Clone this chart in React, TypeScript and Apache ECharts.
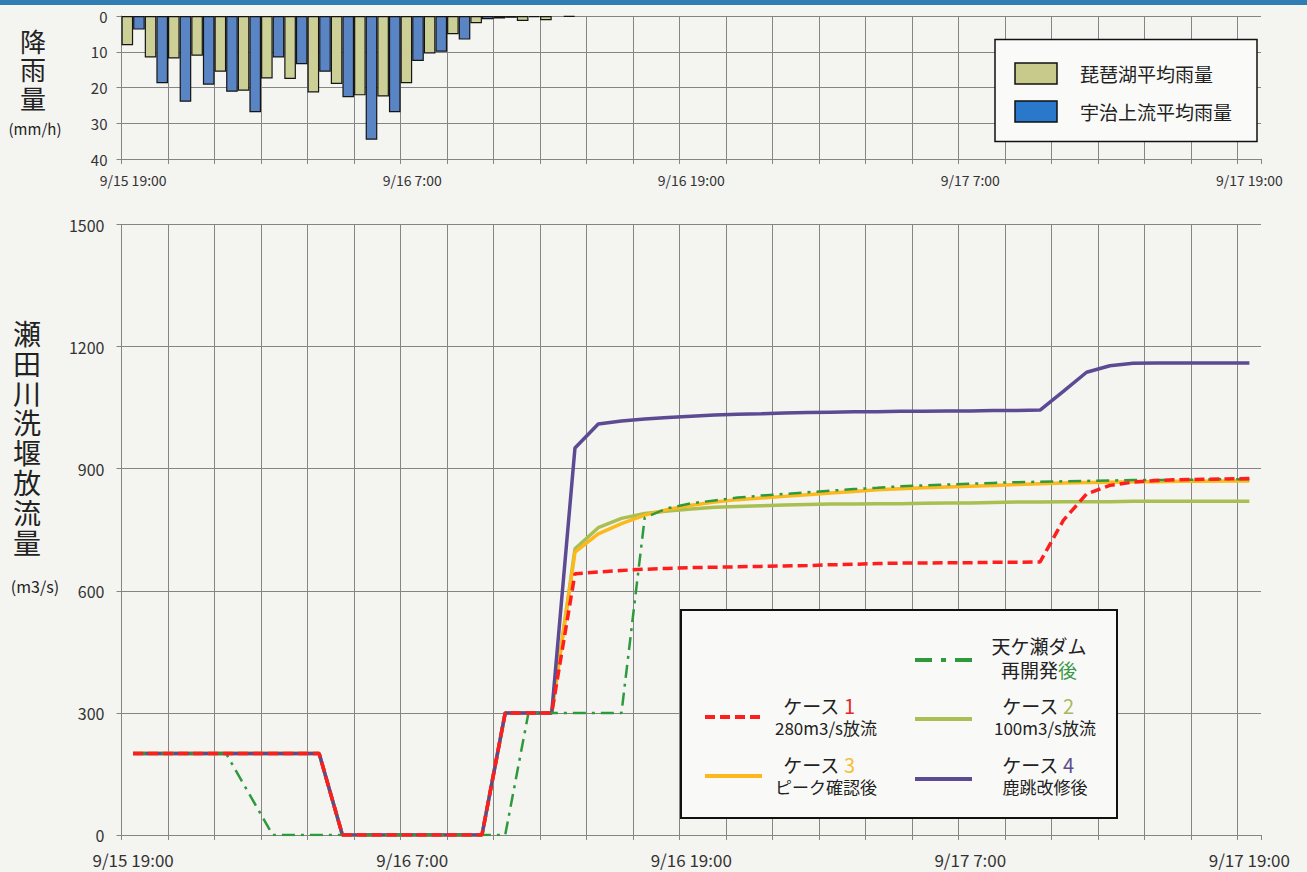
import React, { useEffect, useRef } from 'react';
import * as echarts from 'echarts';

const categories = [
  '9/15 19:00', '9/15 20:00', '9/15 21:00', '9/15 22:00', '9/15 23:00',
  '9/16 0:00', '9/16 1:00', '9/16 2:00', '9/16 3:00', '9/16 4:00', '9/16 5:00',
  '9/16 6:00', '9/16 7:00', '9/16 8:00', '9/16 9:00', '9/16 10:00', '9/16 11:00',
  '9/16 12:00', '9/16 13:00', '9/16 14:00', '9/16 15:00', '9/16 16:00', '9/16 17:00',
  '9/16 18:00', '9/16 19:00', '9/16 20:00', '9/16 21:00', '9/16 22:00', '9/16 23:00',
  '9/17 0:00', '9/17 1:00', '9/17 2:00', '9/17 3:00', '9/17 4:00', '9/17 5:00',
  '9/17 6:00', '9/17 7:00', '9/17 8:00', '9/17 9:00', '9/17 10:00', '9/17 11:00',
  '9/17 12:00', '9/17 13:00', '9/17 14:00', '9/17 15:00', '9/17 16:00', '9/17 17:00',
  '9/17 18:00', '9/17 19:00',
];

// 降雨量 (mm/h)
const rainBiwa = [
  8.2, 11.6, 11.9, 11.1, 15.6, 20.9, 17.5, 17.6, 21.4, 19.0,
  22.2, 22.5, 18.8, 10.5, 5.1, 2.0, 0.7, 1.4, 1.2, 0.2,
  null, null, null, null, null, null, null, null, null, null,
  null, null, null, null, null, null, null, null, null, null,
  null, null, null, null, null, null, null, null, null,
];
const rainUji = [
  3.8, 18.8, 24.0, 19.2, 21.2, 26.9, 11.6, 13.5, 15.6, 22.7,
  34.6, 26.9, 12.6, 10.0, 6.6, 0.9, 0.5, 0.3, null, null,
  null, null, null, null, null, null, null, null, null, null,
  null, null, null, null, null, null, null, null, null, null,
  null, null, null, null, null, null, null, null, null,
];

// 瀬田川洗堰放流量 (m3/s)
const flowCase1 = [
  200, 200, 200, 200, 200, 200, 200, 200, 200, 0,
  0, 0, 0, 0, 0, 0, 300, 300, 300, 642,
  646, 650, 653, 655, 657, 658, 659, 660, 661, 662,
  664, 665, 667, 668, 668, 669, 669, 670, 670, 671,
  773, 838, 859, 867, 871, 873, 874, 875, 876,
];
const flowCase2 = [
  200, 200, 200, 200, 200, 200, 200, 200, 200, 0,
  0, 0, 0, 0, 0, 0, 300, 300, 300, 703,
  755, 778, 790, 796, 801, 805, 807, 809, 811, 812,
  813, 813, 814, 814, 815, 816, 816, 817, 818, 818,
  819, 819, 819, 820, 820, 820, 820, 820, 820,
];
const flowCase3 = [
  200, 200, 200, 200, 200, 200, 200, 200, 200, 0,
  0, 0, 0, 0, 0, 0, 300, 300, 300, 695,
  740, 765, 786, 800, 810, 818, 824, 828, 832, 836,
  840, 844, 848, 851, 853, 855, 857, 859, 861, 863,
  865, 866, 867, 868, 868, 869, 869, 870, 870,
];
const flowCase4 = [
  200, 200, 200, 200, 200, 200, 200, 200, 200, 0,
  0, 0, 0, 0, 0, 0, 300, 300, 300, 951,
  1010, 1017, 1022, 1026, 1029, 1032, 1034, 1035, 1037, 1038,
  1039, 1040, 1040, 1041, 1041, 1042, 1042, 1043, 1043, 1044,
  1090, 1137, 1153, 1159, 1160, 1160, 1160, 1160, 1160,
];
const flowDam = [
  200, 200, 200, 200, 200, 100, 0, 0, 0, 0,
  0, 0, 0, 0, 0, 0, 0, 300, 300, 300,
  300, 300, 780, 803, 815, 822, 829, 834, 838, 842,
  846, 850, 853, 857, 859, 861, 863, 865, 867, 868,
  869, 870, 871, 872, 872, 873, 873, 874, 874,
];

const rainTicks = { min: 0, max: 40, interval: 10 };
const flowTicks = { min: 0, max: 1500, interval: 300 };

const rainTitle = ['降', '雨', '量'];
const flowTitle = ['瀬', '田', '川', '洗', '堰', '放', '流', '量'];

const FONT = '"Noto Sans CJK JP", "Noto Sans", sans-serif';
const GRID_COLOR = '#858585';
const C_RED = '#ff1e1e';
const C_OLIVE = '#a9bf52';
const C_YELLOW = '#fdb81c';
const C_PURPLE = '#5c4a93';
const C_GREEN = '#2f9a3c';
const C_BAR_Y = '#cdd096';
const C_BAR_B = '#5a85c5';

const center = { textAlign: 'center', align: 'center', textVerticalAlign: 'middle', verticalAlign: 'middle' };

function legendText(x: number, y: number, main: string, num: string, numColor: string, sub: string) {
  return [
    {
      type: 'text', x, y, z: 110,
      style: {
        text: `{t|${main}}{n|${num}}`,
        rich: {
          t: { fontSize: 19, fill: '#222', color: '#222', fontFamily: FONT },
          n: { fontSize: 20, fill: numColor, color: numColor, fontFamily: FONT },
        },
        ...center,
      },
    },
    {
      type: 'text', x: x + 7, y: y + 22, z: 110,
      style: { text: sub, fontSize: 17, fontFamily: FONT, fill: '#222', ...center },
    },
  ];
}

export default function App() {
  const ref = useRef<HTMLDivElement>(null);
  useEffect(() => {
    if (!ref.current) return;
    const chart = echarts.init(ref.current, undefined, { renderer: 'svg' });
    const xCommon = (gridIndex: number, fontSize: number, margin: number) => ({
      type: 'category',
      gridIndex,
      data: categories,
      boundaryGap: true,
      axisLine: { show: true, onZero: false, lineStyle: { color: GRID_COLOR, width: 1 } },
      axisTick: { show: true, interval: 1, length: 5, lineStyle: { color: GRID_COLOR } },
      splitLine: { show: true, interval: 1, showMaxLine: false, lineStyle: { color: GRID_COLOR, width: 1 } },
      axisLabel: { interval: 11, fontSize, margin, color: '#333', fontFamily: FONT },
    });
    const yFormatter = (v: number) => String(v);
    const option: any = {
      animation: false,
      backgroundColor: '#f4f4f1',
      grid: [
        { left: 121.5, top: 16, width: 1139.5, height: 143 },
        { left: 121.5, top: 224.5, width: 1139.5, height: 610.5 },
      ],
      xAxis: [xCommon(0, 14, 14), xCommon(1, 17, 16)],
      yAxis: [
        {
          type: 'value', gridIndex: 0, inverse: true, ...rainTicks,
          axisLine: { show: true, lineStyle: { color: GRID_COLOR } },
          axisTick: { show: true, length: 5, lineStyle: { color: GRID_COLOR } },
          splitLine: { show: true, lineStyle: { color: GRID_COLOR } },
          axisLabel: { fontSize: 15, color: '#333', margin: 14, fontFamily: FONT, formatter: yFormatter },
        },
        {
          type: 'value', gridIndex: 1, ...flowTicks,
          axisLine: { show: true, lineStyle: { color: GRID_COLOR } },
          axisTick: { show: true, length: 5, lineStyle: { color: GRID_COLOR } },
          splitLine: { show: true, lineStyle: { color: GRID_COLOR } },
          axisLabel: { fontSize: 16, color: '#333', margin: 17, fontFamily: FONT, formatter: yFormatter },
        },
      ],
      series: [
        {
          name: '琵琶湖平均雨量', type: 'bar', xAxisIndex: 0, yAxisIndex: 0, data: rainBiwa,
          barGap: '0%', barCategoryGap: '0%',
          itemStyle: { color: C_BAR_Y, borderColor: '#151515', borderWidth: 1.2 },
        },
        {
          name: '宇治上流平均雨量', type: 'bar', xAxisIndex: 0, yAxisIndex: 0, data: rainUji,
          barGap: '0%', barCategoryGap: '0%',
          itemStyle: { color: C_BAR_B, borderColor: '#151515', borderWidth: 1.2 },
        },
        {
          name: 'ケース2', type: 'line', xAxisIndex: 1, yAxisIndex: 1, data: flowCase2,
          symbol: 'none', lineStyle: { color: C_OLIVE, width: 3.5 },
        },
        {
          name: 'ケース3', type: 'line', xAxisIndex: 1, yAxisIndex: 1, data: flowCase3,
          symbol: 'none', lineStyle: { color: C_YELLOW, width: 3.5 },
        },
        {
          name: 'ケース4', type: 'line', xAxisIndex: 1, yAxisIndex: 1, data: flowCase4,
          symbol: 'none', lineStyle: { color: C_PURPLE, width: 3.5 },
        },
        {
          name: '天ケ瀬ダム再開発後', type: 'line', xAxisIndex: 1, yAxisIndex: 1, data: flowDam,
          symbol: 'none', lineStyle: { color: C_GREEN, width: 2.5, type: [13, 6, 3, 6] },
        },
        {
          name: 'ケース1', type: 'line', xAxisIndex: 1, yAxisIndex: 1, data: flowCase1,
          symbol: 'none', lineStyle: { color: C_RED, width: 3.5, type: [10, 5] },
        },
      ],
      graphic: [
        { type: 'rect', shape: { x: 0, y: 0, width: 1307, height: 5 }, style: { fill: '#2f7db3' }, z: 120 },
        // left titles
        ...rainTitle.map((ch, i) => ({
          type: 'text', x: 33, y: 40 + i * 28.5,
          style: { text: ch, fontSize: 26, fontFamily: FONT, fill: '#222', ...center },
        })),
        {
          type: 'text', x: 35, y: 128,
          style: { text: '(mm/h)', fontSize: 15, fontFamily: FONT, fill: '#222', ...center },
        },
        ...flowTitle.map((ch, i) => ({
          type: 'text', x: 27, y: 333 + i * 29.8,
          style: { text: ch, fontSize: 28, fontFamily: FONT, fill: '#222', ...center },
        })),
        {
          type: 'text', x: 35, y: 586,
          style: { text: '(m3/s)', fontSize: 16, fontFamily: FONT, fill: '#222', ...center },
        },
        // top legend
        { type: 'rect', z: 100, shape: { x: 995, y: 39.5, width: 262, height: 102 }, style: { fill: '#fafaf8', stroke: '#111', lineWidth: 1.5 } },
        { type: 'rect', z: 101, shape: { x: 1015, y: 63, width: 42, height: 21 }, style: { fill: '#c8ca8c', stroke: '#111', lineWidth: 1.5 } },
        { type: 'rect', z: 101, shape: { x: 1015, y: 101, width: 42, height: 21 }, style: { fill: '#2a78cb', stroke: '#111', lineWidth: 1.5 } },
        {
          type: 'text', z: 101, x: 1080, y: 73.5,
          style: { text: '琵琶湖平均雨量', fontSize: 19, fontFamily: FONT, fill: '#222', textVerticalAlign: 'middle', verticalAlign: 'middle' },
        },
        {
          type: 'text', z: 101, x: 1080, y: 111,
          style: { text: '宇治上流平均雨量', fontSize: 19, fontFamily: FONT, fill: '#222', textVerticalAlign: 'middle', verticalAlign: 'middle' },
        },
        // bottom legend
        { type: 'rect', z: 100, shape: { x: 681, y: 610, width: 436, height: 208 }, style: { fill: '#f9f9f7', stroke: '#111', lineWidth: 2 } },
        { type: 'line', z: 101, shape: { x1: 915, y1: 660, x2: 972, y2: 660 }, style: { stroke: C_GREEN, lineWidth: 4, lineDash: [17, 9, 5, 9] } },
        { type: 'line', z: 101, shape: { x1: 705, y1: 717, x2: 762, y2: 717 }, style: { stroke: C_RED, lineWidth: 4, lineDash: [10, 5] } },
        { type: 'line', z: 101, shape: { x1: 915, y1: 719, x2: 972, y2: 719 }, style: { stroke: C_OLIVE, lineWidth: 4 } },
        { type: 'line', z: 101, shape: { x1: 705, y1: 776, x2: 762, y2: 776 }, style: { stroke: C_YELLOW, lineWidth: 4 } },
        { type: 'line', z: 101, shape: { x1: 915, y1: 779, x2: 972, y2: 779 }, style: { stroke: C_PURPLE, lineWidth: 4 } },
        {
          type: 'text', z: 110, x: 1039, y: 645,
          style: { text: '天ケ瀬ダム', fontSize: 19, fontFamily: FONT, fill: '#222', ...center },
        },
        {
          type: 'text', z: 110, x: 1039, y: 669,
          style: {
            text: '{t|再開発}{g|後}',
            rich: {
              t: { fontSize: 19, fill: '#222', color: '#222', fontFamily: FONT },
              g: { fontSize: 19, fill: '#3a9a48', color: '#3a9a48', fontFamily: FONT },
            },
            ...center,
          },
        },
        ...legendText(819, 705, 'ケース ', '1', '#e8262a', '280m3/s放流'),
        ...legendText(1038, 705, 'ケース ', '2', '#a8b85e', '100m3/s放流'),
        ...legendText(819, 764, 'ケース ', '3', '#f5bf3a', 'ピーク確認後'),
        ...legendText(1038, 764, 'ケース ', '4', '#5c4f8e', '鹿跳改修後'),
      ],
    };
    chart.setOption(option);
    return () => chart.dispose();
  }, []);
  return (
    <div
      ref={ref}
      style={{ position: 'absolute', left: 0, top: 0, width: 1307, height: 872 }}
    />
  );
}
